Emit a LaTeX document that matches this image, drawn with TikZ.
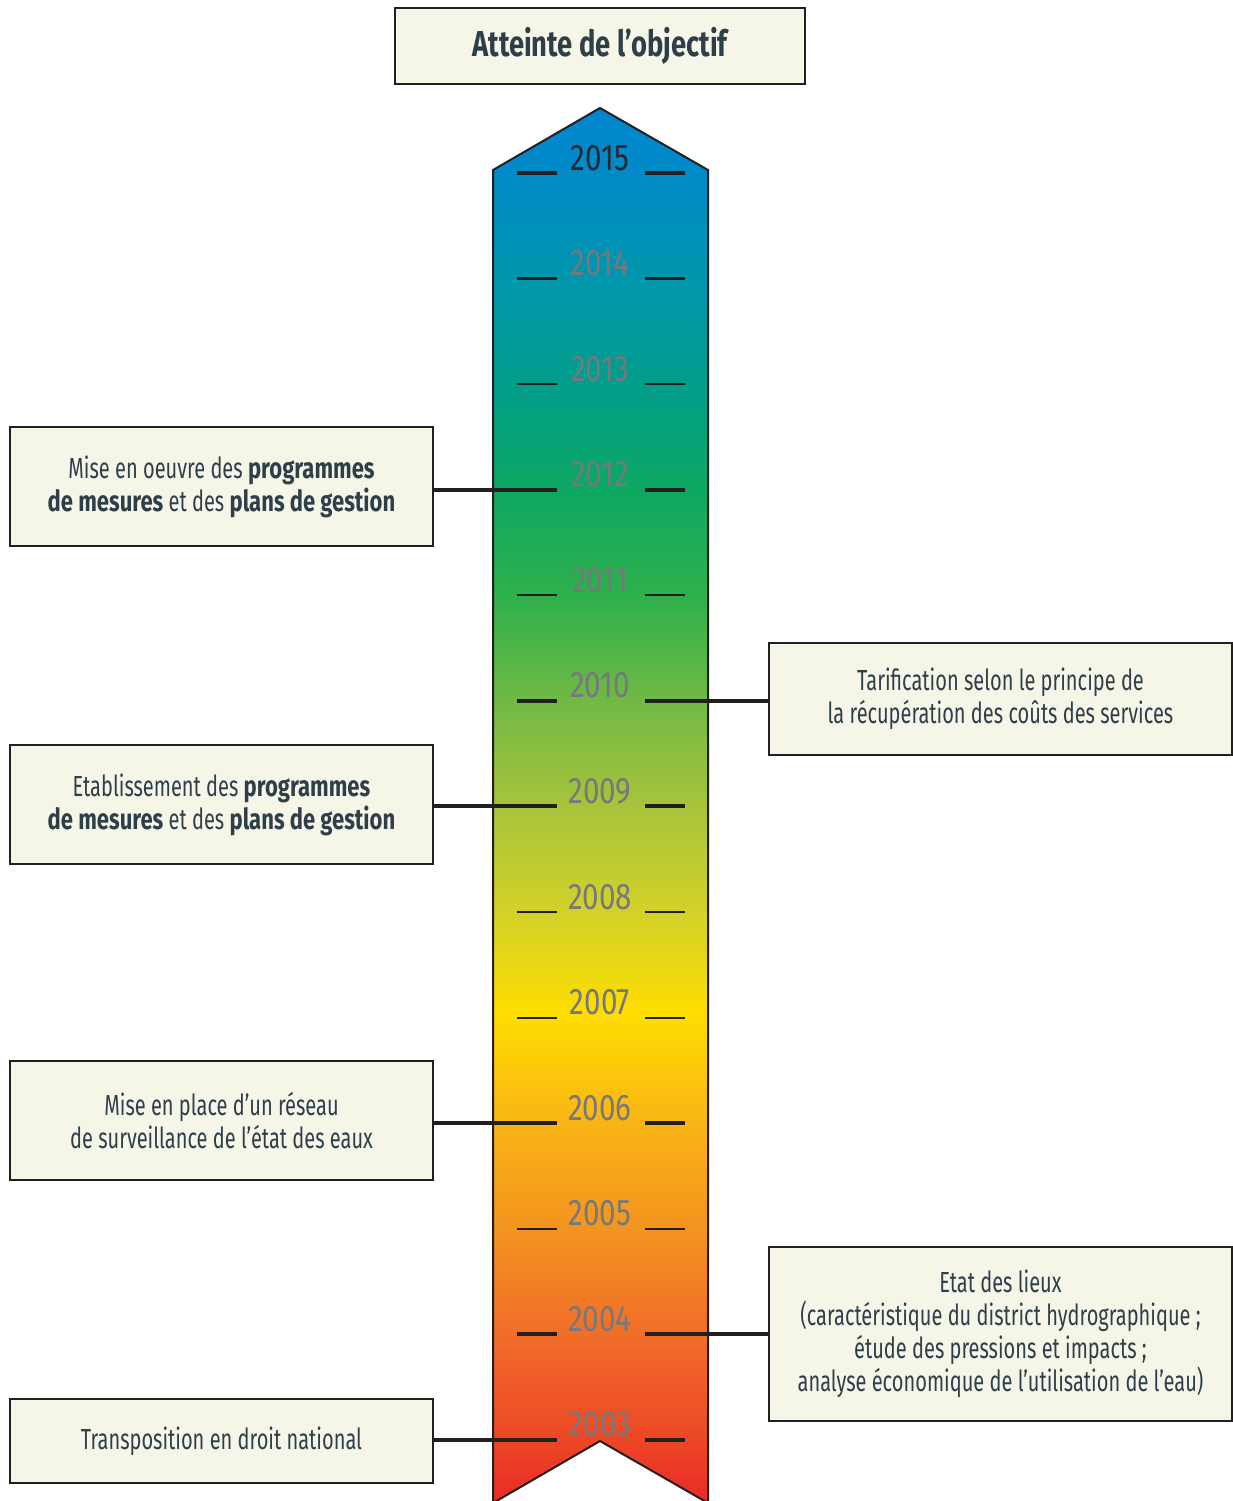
\documentclass[tikz,border=0pt]{standalone}
\usepackage{fontspec}
\setmainfont{Fira Sans}[FakeStretch=0.69,BoldFeatures={FakeStretch=0.76}]
\newfontfamily\chiffres{Fira Sans}[FakeStretch=0.8]
\definecolor{encre}{HTML}{2E3F4A}
\definecolor{creme}{HTML}{F6F6E8}
\definecolor{trait}{HTML}{231F20}
\definecolor{annee}{HTML}{77787C}
\definecolor{fonce}{HTML}{2A2A2C}
% couleurs du ruban, du bas vers le haut
\definecolor{c0}{HTML}{E92A26}
\definecolor{c1}{HTML}{EC4626}
\definecolor{c2}{HTML}{F06D29}
\definecolor{c3}{HTML}{F39320}
\definecolor{c4}{HTML}{F9B316}
\definecolor{c5}{HTML}{FFDD00}
\definecolor{c6}{HTML}{D4D228}
\definecolor{c7}{HTML}{A8C43A}
\definecolor{c8}{HTML}{72B945}
\definecolor{c9}{HTML}{2FB04B}
\definecolor{c10}{HTML}{0EA862}
\definecolor{c11}{HTML}{009E8B}
\definecolor{c12}{HTML}{0096AD}
\definecolor{c13}{HTML}{008AC7}
\definecolor{c14}{HTML}{0086D1}
\pgfdeclareverticalshading{ruban}{100bp}{color(0bp)=(c0); color(25bp)=(c0);
  color(27.2bp)=(c1); color(31bp)=(c2); color(34.8bp)=(c3); color(38.5bp)=(c4);
  color(42.5bp)=(c5); color(46.1bp)=(c6); color(49.9bp)=(c7); color(53.7bp)=(c8);
  color(57.5bp)=(c9); color(61.3bp)=(c10); color(65.1bp)=(c11); color(68.9bp)=(c12);
  color(72.7bp)=(c13); color(75bp)=(c14); color(100bp)=(c14)}
\begin{document}
\begin{tikzpicture}[x=1pt,y=-1pt,
  etape/.style={draw=trait,line width=2.5pt,fill=creme,text=encre,align=center,
    inner sep=0pt,font=\fontsize{29}{33}\selectfont},
  link/.style={draw=trait,line width=4pt},
  major/.style={trait,line width=4pt},
  minor/.style={trait,line width=2.2pt},
  an/.style={anchor=base,font=\chiffres\fontsize{37}{40}\selectfont}]
\useasboundingbox (0,0) rectangle (1233,1501);
% le ruban
\shadedraw[shading=ruban,draw=trait,line width=2pt] (493,1503) -- (493,170) -- (600,108)
  -- (708,170) -- (708,1503) -- (600,1441) -- cycle;
% les annees
\foreach \yr/\tk/\cl [count=\i from 0] in {2015/major/fonce,2014/minor/annee,
  2013/minor/annee,2012/major/annee,2011/minor/annee,2010/major/annee,
  2009/major/annee,2008/minor/annee,2007/minor/annee,2006/major/annee,
  2005/minor/annee,2004/major/annee,2003/major/annee}{
  \pgfmathsetmacro\y{173+105.58*\i}
  \coordinate (l\yr) at (557,\y);
  \coordinate (r\yr) at (645,\y);
  \draw[\tk] (517,\y) -- (l\yr);
  \draw[\tk] (r\yr) -- (685,\y);
  \node[an,text=\cl] (y\yr) at (600,\y-3) {\yr};
}
\node[etape,minimum width=410pt,minimum height=76pt,
  font=\fontsize{36}{40}\selectfont\bfseries] (titre) at (600,46) {Atteinte de l’objectif};
% a gauche
\node[etape,minimum width=423pt,minimum height=119pt] (b2012) at (221.5,486.5)
  {Mise en oeuvre des \textbf{programmes}\\\textbf{de mesures} et des \textbf{plans de gestion}};
\node[etape,minimum width=423pt,minimum height=119pt] (b2009) at (221.5,804.5)
  {Etablissement des \textbf{programmes}\\\textbf{de mesures} et des \textbf{plans de gestion}};
\node[etape,minimum width=423pt,minimum height=119pt] (b2006) at (221.5,1120.5)
  {Mise en place d’un réseau\\de surveillance de l’état des eaux};
\node[etape,minimum width=423pt,minimum height=84pt] (b2003) at (221.5,1441)
  {Transposition en droit national};
% a droite
\node[etape,minimum width=463pt,minimum height=112pt] (b2010) at (1000.5,699)
  {Tarification selon le principe de\\la récupération des coûts des services};
\node[etape,minimum width=463pt,minimum height=174pt] (b2004) at (1000.5,1334)
  {Etat des lieux\\(caractéristique du district hydrographique ;\\étude des pressions et impacts ;\\analyse économique de l’utilisation de l’eau)};
\draw[link] (b2012.east |- l2012) -- (l2012);
\draw[link] (b2009.east |- l2009) -- (l2009);
\draw[link] (b2006.east |- l2006) -- (l2006);
\draw[link] (b2003.east |- l2003) -- (l2003);
\draw[link] (r2010) -- (b2010.west |- r2010);
\draw[link] (r2004) -- (b2004.west |- r2004);
\end{tikzpicture}
\end{document}
